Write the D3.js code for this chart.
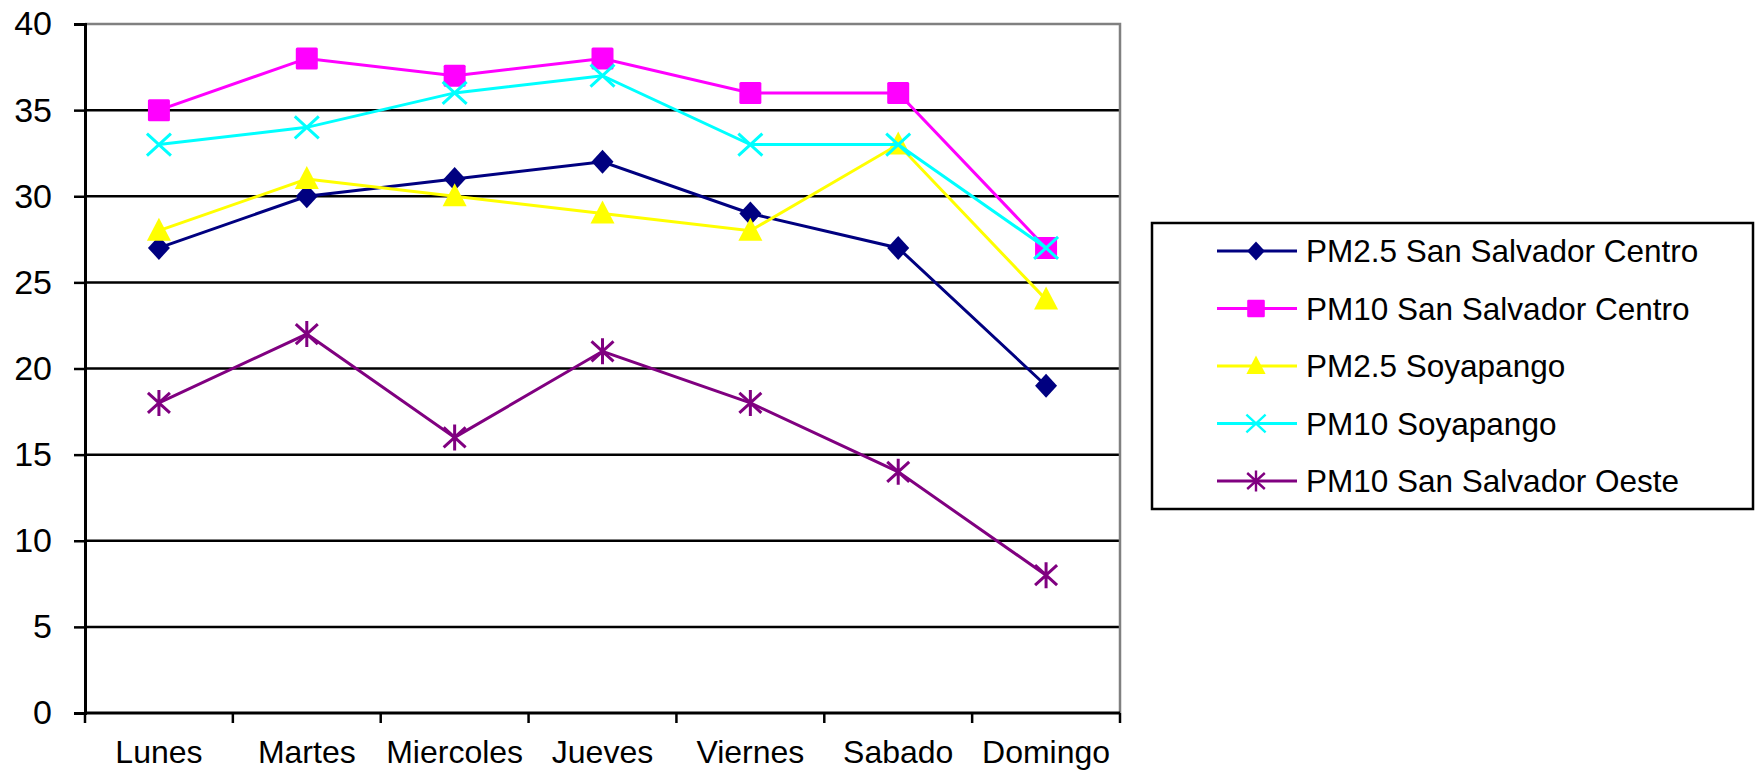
<!DOCTYPE html>
<html>
<head>
<meta charset="utf-8">
<script src="https://cdn.jsdelivr.net/npm/d3@7"></script>
<style>
  html, body { margin: 0; padding: 0; background: #fff; }
  svg { display: block; font-family: "Liberation Sans", Arial, sans-serif; }
</style>
</head>
<body>
<svg id="chart" width="1756" height="771"></svg>
<script>
// Weekly particulate readings per monitoring station
const days = ["Lunes", "Martes", "Miercoles", "Jueves", "Viernes", "Sabado", "Domingo"];
const pm25Centro = [27, 30, 31, 32, 29, 27, 19];
const pm10Centro = [35, 38, 37, 38, 36, 36, 27];
const pm25Soyapango = [28, 31, 30, 29, 28, 33, 24];
const pm10Soyapango = [33, 34, 36, 37, 33, 33, 27];
const pm10Oeste = [18, 22, 16, 21, 18, 14, 8];
const yTicks = [0, 5, 10, 15, 20, 25, 30, 35, 40];

const series = [
  { name: "PM2.5 San Salvador Centro", values: pm25Centro, color: "#000080", marker: "diamond" },
  { name: "PM10 San Salvador Centro", values: pm10Centro, color: "#FF00FF", marker: "square" },
  { name: "PM2.5 Soyapango", values: pm25Soyapango, color: "#FFFF00", marker: "triangle" },
  { name: "PM10 Soyapango", values: pm10Soyapango, color: "#00FFFF", marker: "x" },
  { name: "PM10 San Salvador Oeste", values: pm10Oeste, color: "#800080", marker: "star" }
];

const svg = d3.select("#chart");
const plot = { left: 85, right: 1120, top: 24, bottom: 713 };

const x = d3.scaleBand().domain(days).range([plot.left, plot.right]).padding(0);
const y = d3.scaleLinear().domain([0, 40]).range([plot.bottom, plot.top]);
const cx = d => x(d) + x.bandwidth() / 2;

// horizontal gridlines
svg.append("g").selectAll("line")
  .data(yTicks.filter(t => t > 0 && t < 40))
  .join("line")
  .attr("x1", plot.left).attr("x2", plot.right)
  .attr("y1", d => y(d)).attr("y2", d => y(d))
  .attr("stroke", "#000").attr("stroke-width", 2.5);

// plot area frame (top and right)
svg.append("path")
  .attr("d", `M${plot.left},${y(40)}H${plot.right}V${plot.bottom}`)
  .attr("fill", "none").attr("stroke", "#808080").attr("stroke-width", 2.5);

// y axis
const yAxis = svg.append("g")
  .attr("transform", `translate(${plot.left},0)`)
  .call(d3.axisLeft(y).tickValues(yTicks).tickSize(11).tickPadding(22));
yAxis.select(".domain").attr("stroke", "#000").attr("stroke-width", 3);
yAxis.selectAll(".tick line").attr("stroke", "#000").attr("stroke-width", 2.5);
yAxis.selectAll(".tick text")
  .attr("font-size", 34).attr("fill", "#000")
  .attr("font-family", "Liberation Sans, Arial, sans-serif");

// x axis with ticks on category boundaries
const xAxisG = svg.append("g").attr("transform", `translate(0,${plot.bottom})`);
xAxisG.append("line")
  .attr("x1", plot.left).attr("x2", plot.right)
  .attr("stroke", "#000").attr("stroke-width", 3);
const bounds = days.map(d => x(d)).concat([plot.right]);
xAxisG.selectAll(".bt").data(bounds).join("line")
  .attr("class", "bt")
  .attr("x1", d => d).attr("x2", d => d)
  .attr("y1", 0).attr("y2", 10)
  .attr("stroke", "#000").attr("stroke-width", 2.5);
xAxisG.selectAll("text").data(days).join("text")
  .attr("x", d => cx(d)).attr("y", 50)
  .attr("text-anchor", "middle")
  .attr("font-size", 32).attr("fill", "#000")
  .text(d => d);

// marker shapes
function drawMarker(g, type, color) {
  const s = 11;
  if (type === "diamond") {
    g.append("path").attr("d", `M0,${-12}L${s},0L0,12L${-s},0Z`).attr("fill", color);
  } else if (type === "square") {
    g.append("rect").attr("x", -s).attr("y", -s).attr("width", 2 * s).attr("height", 2 * s)
      .attr("rx", 1.5).attr("fill", color);
  } else if (type === "triangle") {
    g.append("path").attr("d", `M0,${-13}L12,10L-12,10Z`).attr("fill", color);
  } else if (type === "x") {
    g.append("path").attr("d", `M-12,-11L12,11M-12,11L12,-11`)
      .attr("stroke", color).attr("stroke-width", 3).attr("fill", "none");
  } else if (type === "star") {
    g.append("path").attr("d", `M-11,-10L11,10M-11,10L11,-10M0,-13V13`)
      .attr("stroke", color).attr("stroke-width", 3).attr("fill", "none");
  }
}

const line = d3.line().x(d => cx(d.day)).y(d => y(d.v));

series.forEach(s => {
  const pts = s.values.map((v, i) => ({ day: days[i], v }));
  const g = svg.append("g");
  g.append("path").datum(pts)
    .attr("d", line).attr("fill", "none")
    .attr("stroke", s.color).attr("stroke-width", 3);
  pts.forEach(p => {
    const m = g.append("g").attr("transform", `translate(${cx(p.day)},${y(p.v)})`);
    drawMarker(m, s.marker, s.color);
  });
});

// legend
const legend = svg.append("g");
legend.append("rect")
  .attr("x", 1152).attr("y", 223).attr("width", 601).attr("height", 286)
  .attr("fill", "#fff").attr("stroke", "#000").attr("stroke-width", 2.5);
series.forEach((s, i) => {
  const ly = 251 + i * 57.5;
  const item = legend.append("g");
  item.append("line")
    .attr("x1", 1217).attr("x2", 1297).attr("y1", ly).attr("y2", ly)
    .attr("stroke", s.color).attr("stroke-width", 3);
  const m = item.append("g").attr("transform", `translate(1256,${ly}) scale(0.8)`);
  drawMarker(m, s.marker, s.color);
  item.append("text")
    .attr("x", 1306).attr("y", ly + 11)
    .attr("font-size", 31.5).attr("fill", "#000")
    .text(s.name);
});
</script>
</body>
</html>
